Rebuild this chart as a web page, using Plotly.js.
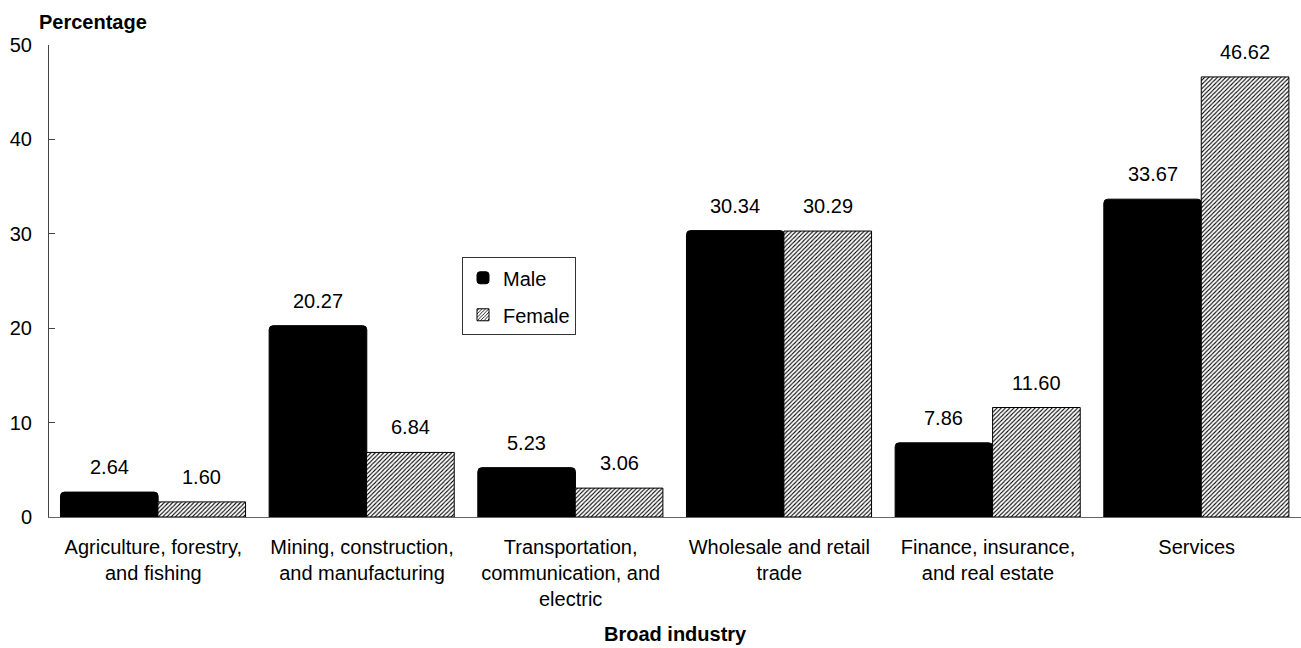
<!DOCTYPE html>
<html>
<head>
<meta charset="utf-8">
<script src="https://cdn.plot.ly/plotly-3.0.1.min.js"></script>
<style>html,body{margin:0;padding:0;background:#fff;}#chart{width:1301px;height:648px;}</style>
</head>
<body>
<div id="chart"></div>
<script>
var categories = [
  "Agriculture, forestry,<br>and fishing",
  "Mining, construction,<br>and manufacturing",
  "Transportation,<br>communication, and<br>electric",
  "Wholesale and retail<br>trade",
  "Finance, insurance,<br>and real estate",
  "Services"
];
var maleValues = [2.64, 20.27, 5.23, 30.34, 7.86, 33.67];
var femaleValues = [1.60, 6.84, 3.06, 30.29, 11.60, 46.62];
var seriesNames = ["Male", "Female"];
var yTicks = [0, 10, 20, 30, 40, 50];

var FONT = "Liberation Sans, Arial, sans-serif";
var FS = 20;
var maleOffset = -0.445, maleWidth = 0.468;
var femaleOffset = 0.022, femaleWidth = 0.42;

var male = {
  type: "bar", name: seriesNames[0], x: categories, y: maleValues,
  offset: maleOffset, width: maleWidth, legendgroup: "m",
  marker: {color: "#000000", line: {color: "#000", width: 1}, cornerradius: 4},
  hoverinfo: "skip"
};
var female = {
  type: "bar", name: seriesNames[1], x: categories, y: femaleValues,
  offset: femaleOffset, width: femaleWidth, legendgroup: "f",
  marker: {color: "#ffffff", line: {color: "#000", width: 1},
    pattern: {shape: "/", fgcolor: "#000", bgcolor: "#ffffff", size: 3, solidity: 0.35}},
  hoverinfo: "skip"
};

var annotations = [];
maleValues.forEach(function (v, i) {
  annotations.push({x: i + maleOffset + maleWidth / 2, y: v, xref: "x", yref: "y",
    text: v.toFixed(2), showarrow: false, yanchor: "bottom", yshift: 12,
    font: {family: FONT, size: FS, color: "#000"}});
});
femaleValues.forEach(function (v, i) {
  annotations.push({x: i + femaleOffset + femaleWidth / 2, y: v, xref: "x", yref: "y",
    text: v.toFixed(2), showarrow: false, yanchor: "bottom", yshift: 12,
    font: {family: FONT, size: FS, color: "#000"}});
});
annotations.push({x: (93 - 49) / 1252, y: (517 - 21) / 472.5, xref: "paper", yref: "paper",
  text: "<b>Percentage</b>", showarrow: false, xanchor: "center", yanchor: "middle",
  font: {family: FONT, size: FS, color: "#000"}});
annotations.push({x: 0.5, xref: "paper", y: (517 - 634) / 472.5, yref: "paper",
  text: "<b>Broad industry</b>", showarrow: false, yanchor: "middle",
  font: {family: FONT, size: FS, color: "#000"}});

var layout = {
  width: 1301, height: 648,
  margin: {l: 49, r: 0, t: 44.5, b: 131},
  paper_bgcolor: "#fff", plot_bgcolor: "#fff",
  font: {family: FONT, size: FS, color: "#000"},
  showlegend: true,
  legend: {x: (462 - 49) / 1252, y: (517 - 257) / 472.5, xanchor: "left", yanchor: "top",
    bordercolor: "#333", borderwidth: 1, bgcolor: "#fff",
    traceorder: "grouped", tracegroupgap: 8, itemwidth: 30,
    font: {family: FONT, size: FS, color: "#000"}},
  xaxis: {type: "category", range: [-0.5, 5.5], showline: true, linecolor: "#666", linewidth: 1,
    ticks: "", showgrid: false, zeroline: false, fixedrange: true,
    tickfont: {family: FONT, size: FS, color: "#000"}, ticklabelstandoff: 12},
  yaxis: {range: [0, 50], tickvals: yTicks, showline: true, linecolor: "#444", linewidth: 1,
    ticks: "inside", ticklen: 6, tickcolor: "#444", showgrid: false, zeroline: false,
    tickfont: {family: FONT, size: FS, color: "#000"}, ticklabelstandoff: 12},
  annotations: annotations
};

Plotly.newPlot("chart", [male, female], layout, {displayModeBar: false, staticPlot: true});
</script>
</body>
</html>
